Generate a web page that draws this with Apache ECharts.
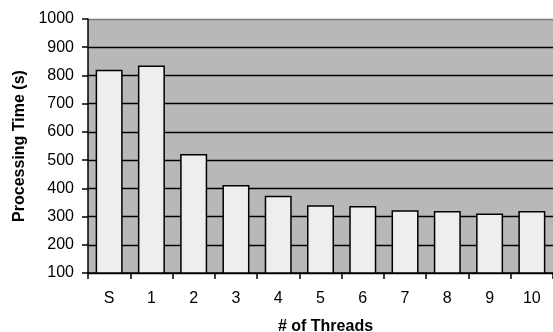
<!DOCTYPE html>
<html>
<head>
<meta charset="utf-8">
<script src="https://cdn.jsdelivr.net/npm/echarts@6/dist/echarts.min.js"></script>
<style>
  html, body { margin: 0; padding: 0; background: #fff; }
  #chart { width: 553px; height: 332px; }
</style>
</head>
<body>
<div id="chart"></div>
<script>
// Thread counts ("S" = sequential run) and measured processing times in seconds
const threadLabels = ['S', '1', '2', '3', '4', '5', '6', '7', '8', '9', '10'];
const processingTimes = [820, 835, 522, 412, 374, 340, 337, 322, 320, 311, 320];
const yMin = 100;
const yMax = 1000;
const yStep = 100;

const font = 'Liberation Sans, Arial, Helvetica, sans-serif';

// One colour per split line (100 .. 1000); the top border line is lighter
const splitColors = [];
for (let v = yMin; v <= yMax; v += yStep) {
  splitColors.push(v === yMax ? '#7a7a7a' : '#000000');
}

const chart = echarts.init(document.getElementById('chart'), null, { renderer: 'canvas' });
chart.setOption({
  animation: false,
  backgroundColor: '#ffffff',
  grid: {
    left: 88, right: 0, top: 19, bottom: 59,
    containLabel: false,
    outerBoundsMode: 'none',
    show: true, backgroundColor: '#b8b8b8', borderWidth: 0
  },
  xAxis: {
    type: 'category',
    data: threadLabels,
    name: '# of Threads',
    nameLocation: 'middle',
    nameGap: 46,
    nameTextStyle: {
      fontFamily: font, fontSize: 16, fontWeight: 'bold', color: '#000',
      padding: [0, 0, 0, 10]
    },
    axisLine: { lineStyle: { color: '#000', width: 1.5 } },
    axisTick: { show: true, length: 6, lineStyle: { color: '#000', width: 1.5 } },
    axisLabel: { margin: 18, fontFamily: font, fontSize: 16, color: '#000' }
  },
  yAxis: {
    type: 'value',
    min: yMin, max: yMax, interval: yStep,
    name: 'Processing Time (s)',
    nameLocation: 'middle',
    nameGap: 60,
    nameTextStyle: { fontFamily: font, fontSize: 16, fontWeight: 'bold', color: '#000' },
    axisLine: { show: true, lineStyle: { color: '#000', width: 1.5 } },
    axisTick: { show: true, length: 6, lineStyle: { color: '#000', width: 1.5 } },
    axisLabel: {
      margin: 14, fontFamily: font, fontSize: 16, color: '#000',
      formatter: (v) => String(v)
    },
    splitLine: { show: true, lineStyle: { color: splitColors, width: 1.3 } }
  },
  series: [{
    type: 'bar',
    data: processingTimes,
    barWidth: 27,
    itemStyle: { color: '#eeeeee', borderColor: '#000', borderWidth: 1.5 }
  }]
});
</script>
</body>
</html>
